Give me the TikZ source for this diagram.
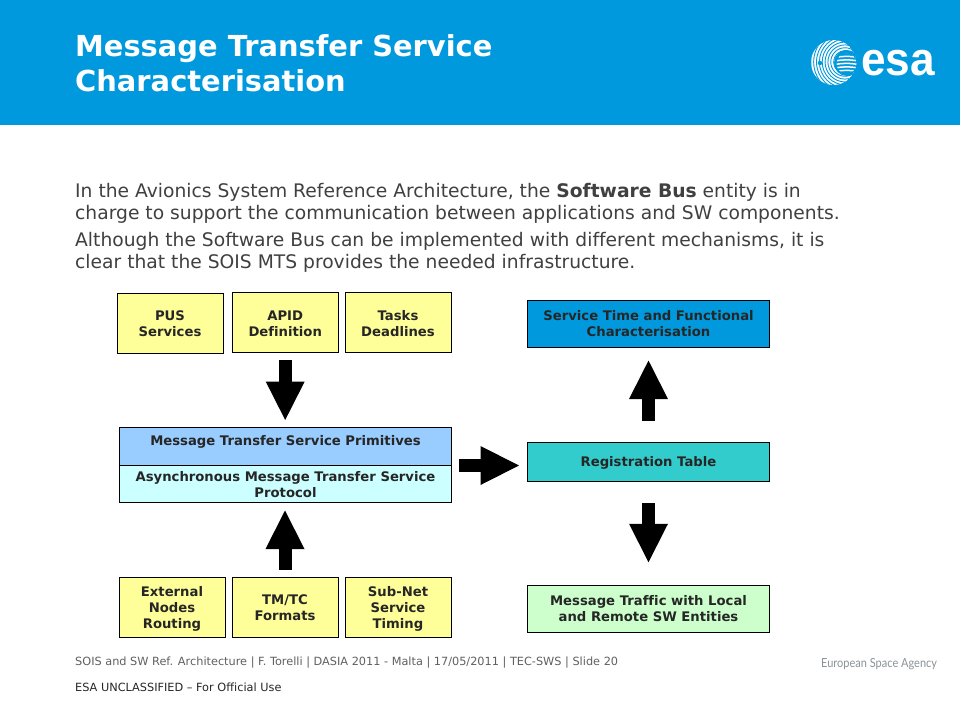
\documentclass[tikz,border=0pt]{standalone}
\usepackage{fontspec}
\setmainfont{DejaVu Sans}[Ligatures=NoCommon]
\newfontfamily\logofont{Liberation Sans}
\newfontfamily\agencyfont{Lato}
\usetikzlibrary{arrows.meta,calc,positioning}
\definecolor{esablue}{HTML}{0099DD}
\definecolor{bodygrey}{HTML}{404040}
\definecolor{footgrey}{HTML}{606060}
\definecolor{boxyellow}{HTML}{FFFF99}
\definecolor{boxblue}{HTML}{99CCFF}
\definecolor{boxcyan}{HTML}{CCFFFF}
\definecolor{boxteal}{HTML}{33CCCC}
\definecolor{boxgreen}{HTML}{CCFFCC}
\definecolor{agencygrey}{HTML}{8C9296}
\newcommand{\dnA}{\rule{0pt}{12pt}}
\newcommand{\dnB}{\rule{0pt}{13.2pt}}
\tikzset{
  x=1pt,y=-1pt,
  boxbase/.style={draw=black,line width=0.8pt,inner sep=0pt,outer sep=0pt,align=center,
    font=\fontsize{13.2}{16}\selectfont\bfseries,text=black!85},
  yellowbox/.style={boxbase,fill=boxyellow,minimum width=106pt,minimum height=60pt},
  widebox/.style={boxbase,minimum width=242.5pt},
  stackbox/.style={boxbase,minimum width=332pt,minimum height=37.5pt},
  blockarrow/.style={line width=13pt,-{Triangle[length=38.5pt,width=39pt,line width=0pt]},draw=black},
  bodytext/.style={anchor=base west,inner sep=0pt,text=bodygrey,font=\fontsize{18.7}{21}\selectfont},
  foottext/.style={anchor=base west,inner sep=0pt,font=\fontsize{11.3}{13}\selectfont},
}
\begin{document}
\begin{tikzpicture}
\useasboundingbox (0,0) rectangle (960,720);
\fill[white] (0,0) rectangle (960,720);
\fill[esablue] (0,0) rectangle (960,125);
% title
\node[anchor=base west,inner sep=0pt,text=white,font=\fontsize{28.9}{34}\selectfont\bfseries] (t1) at (75,56) {Message Transfer Service};
\node[anchor=base west,inner sep=0pt,text=white,font=\fontsize{28.9}{34}\selectfont\bfseries] (t2) at (75,91) {Characterisation};
% logo
\begin{scope}
  \clip (833.5,62.5) circle (22.5);
  \fill[white] (833.5,62.5) circle (22.5);
  \foreach \r in {3,6,...,36}{
    \draw[esablue,line width=0.9pt] (845,62) circle (\r*0.95);
  }
  \fill[esablue] (847,63) circle (13);
\end{scope}
\begin{scope}
  \clip (846.5,63.5) circle (10);
  \foreach \y in {54,57.5,...,74}{
    \draw[white,line width=1.5pt] (835,\y) .. controls (842,\y-1.5) and (850,\y-1.5) .. (858,\y);
  }
\end{scope}
\fill[esablue] (820,63) circle (2.2);
\node[anchor=base west,inner sep=0pt,text=white,font=\logofont\bfseries\fontsize{47}{47}\selectfont,xscale=0.94] (esa) at (861,75) {esa};
% body
\node[bodytext] (b1) at (75,197) {In the Avionics System Reference Architecture, the \textbf{Software Bus} entity is in};
\node[bodytext] (b2) at (75,219) {charge to support the communication between applications and SW components.};
\node[bodytext] (b3) at (75,246) {Although the Software Bus can be implemented with different mechanisms, it is};
\node[bodytext] (b4) at (75,268) {clear that the SOIS MTS provides the needed infrastructure.};
% top boxes
\node[yellowbox] (pus) at (170,323) {\dnA PUS\\Services};
\node[yellowbox,minimum width=106.5pt] (apid) at (285.2,322.2) {\dnA APID\\Definition};
\node[yellowbox] (tasks) at (398,322.2) {\dnA Tasks\\Deadlines};
% stack
\node[stackbox,fill=boxblue,text height=10pt,text depth=12.5pt,anchor=north west,minimum height=37.5pt] (prim) at (119.5,427.5) {Message Transfer Service Primitives};
\node[stackbox,fill=boxcyan,anchor=north west] (async) at (119.5,465) {\dnA Asynchronous Message Transfer Service\\Protocol};
% bottom boxes
\node[yellowbox] (ext) at (172,607) {\dnB External\\Nodes\\Routing};
\node[yellowbox] (tm) at (285,607) {\dnA TM/TC\\Formats};
\node[yellowbox] (sub) at (398,607) {\dnB Sub-Net\\Service\\Timing};
% right boxes
\node[widebox,fill=esablue,minimum height=47.5pt] (serv) at (648.5,323.8) {Service Time and Functional\\Characterisation};
\node[widebox,fill=boxteal,minimum height=39pt] (reg) at (648.5,461.5) {\dnA Registration Table};
\node[widebox,fill=boxgreen,minimum height=47.5pt] (traffic) at (648.5,609) {Message Traffic with Local\\and Remote SW Entities};
% connectors
\coordinate (hstart) at (459,465.5);
\coordinate (hend) at (519,465.5);
\draw[blockarrow,shorten <=8pt,shorten >=7.5pt] (apid.south) -- (apid.south |- prim.north);
\draw[blockarrow,shorten <=7pt,shorten >=8pt] (tm.north) -- (tm.north |- async.south);
\draw[blockarrow] (hstart) -- (hend);
\draw[blockarrow,shorten <=21pt,shorten >=13pt] (reg.north) -- (serv.south);
\draw[blockarrow,shorten <=22pt,shorten >=23pt] (reg.south) -- (traffic.north);
% footer
\node[foottext,text=footgrey] (f1) at (75,665) {SOIS and SW Ref. Architecture | F. Torelli | DASIA 2011 - Malta | 17/05/2011 | TEC-SWS | Slide 20};
\node[foottext,text=black!85] (f2) at (75,691) {ESA UNCLASSIFIED – For Official Use};
\node[anchor=base west,inner sep=0pt,text=agencygrey,font=\agencyfont\fontsize{12.5}{14}\selectfont,xscale=0.88] (f3) at (821,667) {European Space Agency};
\end{tikzpicture}
\end{document}
